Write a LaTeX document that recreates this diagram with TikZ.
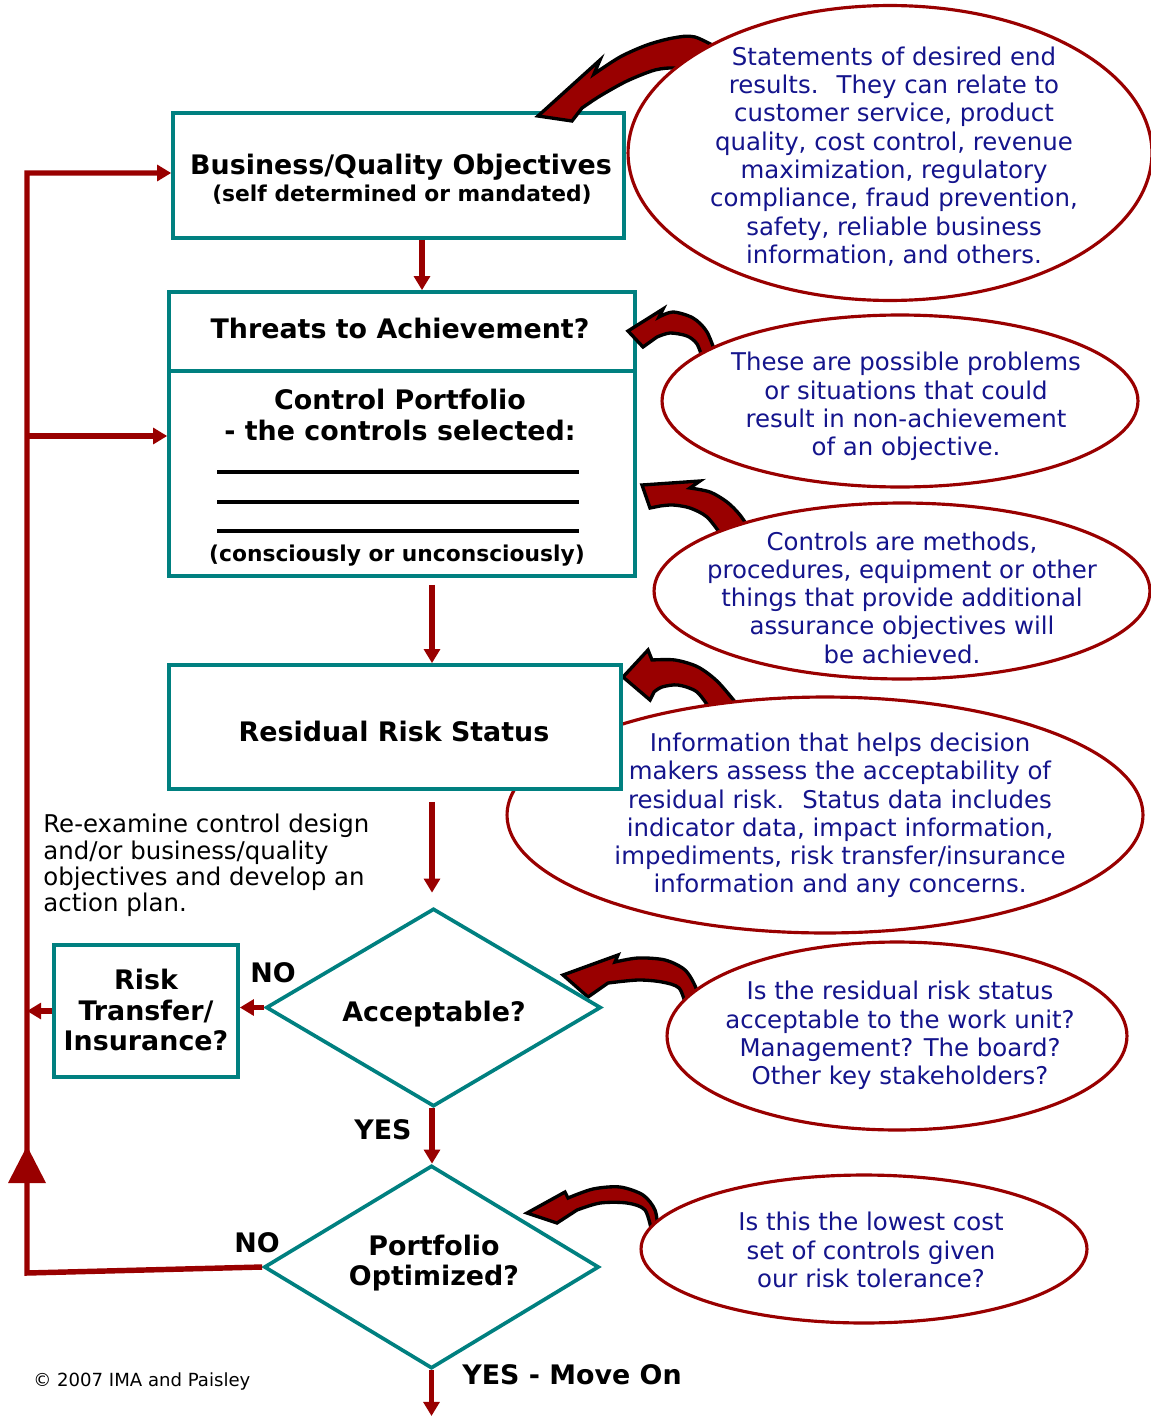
\documentclass[tikz,border=0pt]{standalone}
\usepackage{fontspec}
\setmainfont{DejaVu Sans}
\usetikzlibrary{shapes.geometric,arrows.meta}
\definecolor{tealc}{RGB}{0,128,128}
\definecolor{dred}{RGB}{153,0,0}
\definecolor{navytxt}{RGB}{20,20,140}
\newcommand\ftxt{\fontsize{13.9}{16.1}\selectfont}
\newcommand\fleft{\fontsize{13.9}{14.9}\selectfont}
\newcommand\fttl{\bfseries\fontsize{15.3}{17.2}\selectfont}
\newcommand\fsubt{\bfseries\fontsize{12.4}{14}\selectfont}
\newcommand\fcopy{\fontsize{10.3}{12}\selectfont}
\begin{document}
\begin{tikzpicture}[x=0.02cm,y=-0.02cm,
  box/.style={draw=tealc, line width=2.1pt, fill=white, rectangle, inner sep=0},
  dia/.style={draw=tealc, line width=2.1pt, fill=white, diamond, inner sep=0},
  ell/.style={draw=dred, line width=1.8pt, fill=white, ellipse, inner sep=0},
  conn/.style={draw=dred, line width=3.1pt, -{Triangle[width=9pt,length=8pt]}},
  curv/.style={fill=dred, draw=black, line width=1.9pt},
  etxt/.style={text=navytxt, align=center, font=\ftxt, inner sep=0},
  btxt/.style={align=center, font=\fttl, inner sep=0},
  stxt/.style={align=center, font=\fsubt, inner sep=0},
  ]
\useasboundingbox (0,0) rectangle (1151,1416);
\fill[white] (0,0) rectangle (1151,1416);

% boxes 1 and 2
\node[box, minimum width=9.02cm, minimum height=2.5cm] (box1) at (398.5,175.5) {};
\node[box, minimum width=9.32cm, minimum height=5.68cm] (box2) at (402,434) {};
\coordinate (divy) at (0,371);
\draw[tealc, line width=2.1pt] (box2.west |- divy) -- (box2.east |- divy);

% curved arrows
\filldraw[curv] (538,116) -- (600,60) -- plot[smooth] coordinates {(594,74) (620,57) (647,45) (673,38) (695,37) (725,52)}
  -- plot[smooth] coordinates {(700,72) (676,68) (655,70) (627,81) (600,96) (582,108)} -- (572,121) -- cycle;
\filldraw[curv] (628,331) -- (663,309) -- plot[smooth] coordinates {(659,317) (673,312) (693,318) (707,332) (718,360)}
  -- plot[smooth] coordinates {(703,360) (697,344) (687,336) (670,333) (657,337)} -- (643,347) -- cycle;
\filldraw[curv] (642,485) -- (700,481) -- plot[smooth] coordinates {(690,488) (710,492) (727,502) (740,515) (752,533)}
  -- plot[smooth] coordinates {(722,536) (707,517) (690,508) (673,505) (660,506)} -- (650,508) -- cycle;
\filldraw[curv] (623,677) -- (648,650) -- plot[smooth] coordinates {(652,660) (675,660) (698,667) (718,682) (740,708)}
  -- plot[smooth] coordinates {(712,712) (697,692) (678,685) (662,687) (654,692)} -- (650,700) -- cycle;
\filldraw[curv] (563,975) -- (618,955) -- plot[smooth] coordinates {(615,962) (638,958) (665,960) (685,970) (696,988) (698,1004)}
  -- plot[smooth] coordinates {(686,1006) (679,988) (662,982) (638,980) (608,983)} -- (588,997) -- cycle;
\filldraw[curv] (527,1213) -- (565,1192) -- plot[smooth] coordinates {(568,1198) (593,1189) (620,1187) (643,1195) (655,1210) (658,1230)}
  -- plot[smooth] coordinates {(652,1233) (645,1210) (627,1203) (600,1203) (577,1210)} -- (557,1223) -- cycle;

% ellipses
\node[ell, minimum width=10.48cm, minimum height=5.9cm] (e1) at (890,153) {};
\node[ell, minimum width=9.52cm, minimum height=3.44cm] (e2) at (900,401) {};
\node[ell, minimum width=9.92cm, minimum height=3.52cm] (e3) at (902,591) {};
\node[ell, minimum width=12.72cm, minimum height=4.72cm] (e4) at (825,815) {};
\node[ell, minimum width=9.2cm, minimum height=3.76cm] (e5) at (897,1036) {};
\node[ell, minimum width=8.92cm, minimum height=2.96cm] (e6) at (864,1249) {};

% box 3, risk box, diamonds
\node[box, minimum width=9.04cm, minimum height=2.48cm] (box3) at (395,727) {};
\node[box, minimum width=3.68cm, minimum height=2.64cm] (risk) at (146,1011) {};
\node[dia, minimum width=6.7cm, minimum height=3.96cm] (d1) at (433.5,1007.5) {};
\node[dia, minimum width=6.7cm, minimum height=4.06cm] (d2) at (431.5,1267) {};

% underscore lines
\draw[line width=2pt] (217,472) -- (579,472);
\draw[line width=2pt] (217,502) -- (579,502);
\draw[line width=2pt] (217,531) -- (579,531);

% ellipse texts
\node[etxt] (t1) at (894,156.5) {Statements of desired end\\results.~ They can relate to\\customer service, product\\quality, cost control, revenue\\maximization, regulatory\\compliance, fraud prevention,\\safety, reliable business\\information, and others.};
\node[etxt] (t2) at (906,406.5) {These are possible problems\\or situations that could\\result in non-achievement\\of an objective.};
\node[etxt] (t3) at (902,597.5) {Controls are methods,\\procedures, equipment or other\\things that provide additional\\assurance objectives will\\be achieved.};
\node[etxt] (t4) at (840,815.5) {Information that helps decision\\makers assess the acceptability of\\residual risk.~ Status data includes\\indicator data, impact information,\\impediments, risk transfer/insurance\\information and any concerns.};
\node[etxt] (t5) at (900,1035.5) {Is the residual risk status\\acceptable to the work unit?\\Management? The board?\\Other key stakeholders?};
\node[etxt] (t6) at (871,1250) {Is this the lowest cost\\set of controls given\\our risk tolerance?};

% box texts
\node[btxt] (b1a) at (401,167) {Business/Quality Objectives};
\node[stxt] (b1b) at (402,195) {(self determined or mandated)};
\node[btxt] (b2a) at (400,328) {Threats to Achievement?};
\node[btxt] (b2b) at (400,415) {Control Portfolio\\- the controls selected:};
\node[stxt] (b2c) at (397,556) {(consciously or unconsciously)};
\node[btxt] (b3a) at (394,731) {Residual Risk Status};
\node[btxt] (d1a) at (434,1014) {Acceptable?};
\node[btxt] (d2a) at (434,1263) {Portfolio\\Optimized?};
\node[btxt] (ra) at (146,1010) {Risk\\Transfer/\\Insurance?};
\node[btxt] (no1) at (273,973) {NO};
\node[btxt] (no2) at (257,1243) {NO};
\node[btxt] (yes1) at (383,1130) {YES};
\node[btxt, anchor=west] (yes2) at (462,1375) {YES - Move On};
\node[font=\fleft, align=left, anchor=west, inner sep=0] (lefttxt) at (43,865.5) {Re-examine control design\\and/or business/quality\\objectives and develop an\\action plan.};
\node[font=\fcopy, anchor=west, inner sep=0] (copy) at (33,1381) {© 2007 IMA and Paisley};

% connectors
\coordinate (lb) at (27,1273);
\coordinate (lt) at (27,173);
\coordinate (lm) at (27,436);
\coordinate (bot) at (430,1416);
\coordinate (c422) at (422,0);
\coordinate (c432) at (432,0);
\draw[conn] (box1.south -| c422) -- (box2.north -| c422);
\draw[conn, shorten <=7*0.02cm] (box2.south -| c432) -- (box3.north -| c432);
\draw[conn, shorten <=0.22cm, shorten >=0.28cm] (box3.south -| c432) -- (d1.north -| c432);
\draw[conn] (d1.south -| c432) -- (d2.north -| c432);
\draw[conn] (d2.south) -- (d2.south |- bot);
\draw[conn] (d1.west) -- (d1.west -| risk.east);
\draw[conn] (risk.west) -- (risk.west -| lb);
\draw[conn] (d2.west) -- (lb) -- (lt) -- (lt -| box1.west);
\draw[conn] (lm) -- (lm -| box2.west);
\fill[dred] (27,1146) -- (46,1183) -- (8,1183) -- cycle;
\end{tikzpicture}
\end{document}
